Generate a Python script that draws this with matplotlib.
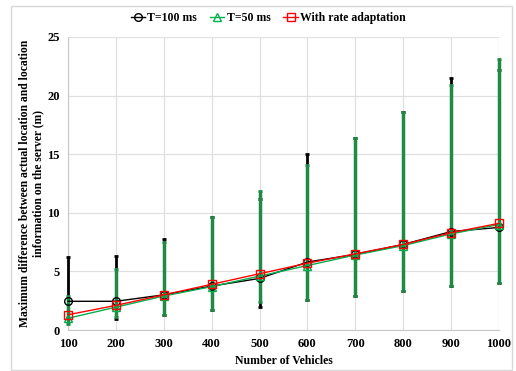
import matplotlib
matplotlib.use("Agg")
import matplotlib.pyplot as plt
from matplotlib.patches import Rectangle

plt.rcParams['font.family'] = ['Liberation Serif', 'DejaVu Serif']
plt.rcParams['font.weight'] = 'bold'

vehicles = [100, 200, 300, 400, 500, 600, 700, 800, 900, 1000]

# T=100 ms
t100_mean = [2.45, 2.45, 3.0, 3.75, 4.4, 5.8, 6.45, 7.3, 8.4, 8.75]
t100_low = [1.0, 0.9, 1.3, 1.7, 2.0, 2.6, 2.9, 3.3, 3.75, 4.0]
t100_high = [6.25, 6.3, 7.8, 9.6, 11.2, 15.0, 16.4, 18.6, 21.5, 22.2]

# T=50 ms
t50_mean = [1.0, 1.95, 2.9, 3.7, 4.6, 5.5, 6.4, 7.2, 8.2, 9.0]
t50_low = [0.5, 1.1, 1.3, 1.7, 2.4, 2.6, 2.9, 3.3, 3.75, 4.0]
t50_high = [2.9, 5.2, 7.5, 9.6, 11.9, 14.1, 16.4, 18.6, 20.9, 23.1]

# with rate adaptation
rate_mean = [1.3, 2.1, 3.0, 3.9, 4.8, 5.7, 6.5, 7.3, 8.3, 9.1]

fig = plt.figure(figsize=(5.16, 3.71), dpi=100)
ax = fig.add_axes([0.1318, 0.1105, 0.8352, 0.7898])

err100 = [[m - lo for m, lo in zip(t100_mean, t100_low)],
          [hi - m for m, hi in zip(t100_mean, t100_high)]]
err50 = [[m - lo for m, lo in zip(t50_mean, t50_low)],
         [hi - m for m, hi in zip(t50_mean, t50_high)]]

eb1 = ax.errorbar(vehicles, t100_mean, yerr=err100, fmt='none', ecolor='black',
                  elinewidth=2, capsize=1.5, capthick=2, zorder=2.6)
eb2 = ax.errorbar(vehicles, t50_mean, yerr=err50, fmt='none', ecolor='#1e8a45',
                  elinewidth=2.5, capsize=1.5, capthick=2, zorder=2.7)
for eb in (eb1, eb2):
    for part in eb.lines[1] + eb.lines[2]:
        part.set_clip_on(False)

mk = dict(ms=5.5, mfc='none', mew=1, clip_on=False)
ax.plot(vehicles, t100_mean, color='black', lw=1, marker='o', mec='black',
        label='T=100 ms', zorder=4, **mk)
ax.plot(vehicles, t50_mean, color='#00b050', lw=1, marker='^', mec='#00b050',
        label='T=50 ms', zorder=4, **mk)
ax.plot(vehicles, rate_mean, color='red', lw=1, marker='s', mec='red',
        label='With rate adaptation', zorder=5, **mk)

ax.set_xlim(100, 1000)
ax.set_ylim(0, 25)
ax.set_xticks(vehicles)
ax.set_yticks([0, 5, 10, 15, 20, 25])
ax.grid(True, color='#e0e0e0', lw=0.9)
ax.set_axisbelow(True)
for s in ['top', 'right']:
    ax.spines[s].set_visible(False)
for s in ['left', 'bottom']:
    ax.spines[s].set_color('#c8c8c8')
ax.tick_params(length=0, labelsize=9, pad=6)
for lab in ax.get_xticklabels() + ax.get_yticklabels():
    lab.set_fontweight('bold')

ax.set_xlabel('Number of Vehicles', fontsize=8.5, fontweight='bold', labelpad=3)
ax.set_ylabel('Maximum difference between actual location and location\n'
              'information on the server (m)', fontsize=8.4, fontweight='bold',
              linespacing=1.15, labelpad=2)

fig.legend(loc='center', bbox_to_anchor=(0.52, 0.951), ncol=3, frameon=False,
           handlelength=1.2, columnspacing=1.1, handletextpad=0.2,
           prop={'weight': 'bold', 'size': 8.5})

fig.patches.append(Rectangle((0.021, 0.003), 0.972, 0.981, transform=fig.transFigure,
                             fill=False, edgecolor='#d9d9d9', lw=1))

fig.savefig('out.png', dpi=100)
